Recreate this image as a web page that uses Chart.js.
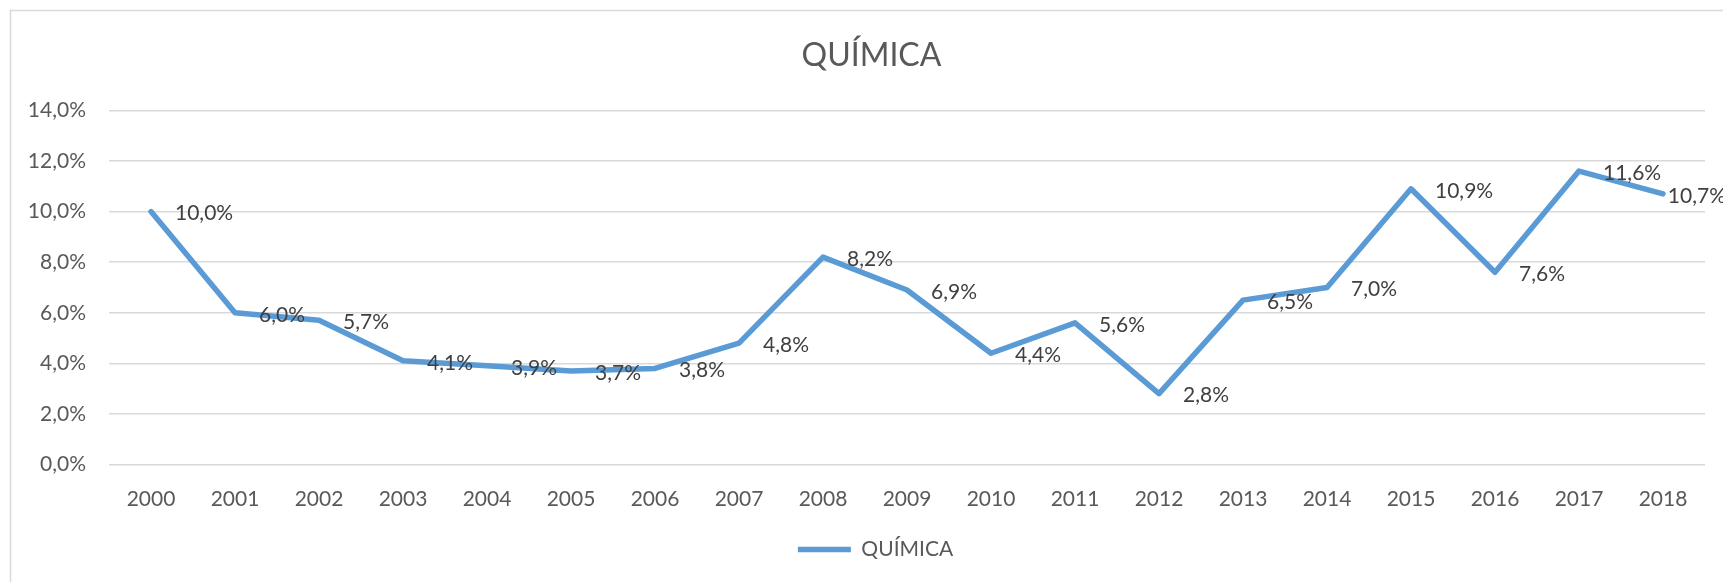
<!DOCTYPE html>
<html>
<head>
<meta charset="utf-8">
<script src="https://cdn.jsdelivr.net/npm/chart.js@4"></script>
<style>
    body { margin: 0; background: #ffffff; }
    canvas { display: block; }
</style>
</head>
<body>
<canvas id="quimicaChart" width="1723" height="582"></canvas>
<script>
// data
var years = ["2000", "2001", "2002", "2003", "2004", "2005", "2006", "2007", "2008", "2009",
    "2010", "2011", "2012", "2013", "2014", "2015", "2016", "2017", "2018"];
var quimica = [10.0, 6.0, 5.7, 4.1, 3.9, 3.7, 3.8, 4.8, 8.2, 6.9,
    4.4, 5.6, 2.8, 6.5, 7.0, 10.9, 7.6, 11.6, 10.7];
var seriesName = "QUÍMICA";
var chartTitle = "QUÍMICA";

function pct(v) {
    return v.toFixed(1).replace(".", ",") + "%";
}

// light frame round the chart (only top and left are visible)
var framePlugin = {
    id: "frame",
    beforeDraw: function (chart) {
        var ctx = chart.ctx;
        ctx.save();
        ctx.fillStyle = "#ffffff";
        ctx.fillRect(0, 0, chart.width, chart.height);
        ctx.strokeStyle = "#d9d9d9";
        ctx.lineWidth = 1.5;
        ctx.beginPath();
        ctx.moveTo(10.5, chart.height + 2);
        ctx.lineTo(10.5, 10.5);
        ctx.lineTo(chart.width + 2, 10.5);
        ctx.stroke();
        ctx.restore();
    }
};

// nudge title and legend a bit right, like the original
var boxShift = {
    id: "boxShift",
    afterLayout: function (chart) {
        chart.legend.left += 23;
        chart.legend.right += 23;
        chart.titleBlock.left += 19;
        chart.titleBlock.right += 19;
    }
};

// value labels to the right of each point
var valueLabels = {
    id: "valueLabels",
    afterDatasetsDraw: function (chart) {
        var ctx = chart.ctx;
        var meta = chart.getDatasetMeta(0);
        var data = chart.data.datasets[0].data;
        ctx.save();
        ctx.font = "21px Lato";
        ctx.fillStyle = "#404040";
        ctx.textAlign = "left";
        ctx.textBaseline = "middle";
        meta.data.forEach(function (pt, i) {
            var txt = pct(data[i]);
            var x = pt.x + 24;
            var w = ctx.measureText(txt).width;
            if (x + w > chart.width + 3) {
                x = chart.width + 3 - w;
            }
            ctx.fillText(txt, x, pt.y + 2);
        });
        ctx.restore();
    }
};

var ctx = document.getElementById("quimicaChart");
var chart = new Chart(ctx, {
    type: "line",
    data: {
        labels: years,
        datasets: [{
            label: seriesName,
            data: quimica,
            borderColor: "#5b9bd5",
            backgroundColor: "#5b9bd5",
            borderWidth: 5.5,
            borderCapStyle: "round",
            borderJoinStyle: "round",
            pointRadius: 0,
            pointHoverRadius: 0,
            tension: 0,
            fill: false
        }]
    },
    options: {
        responsive: false,
        animation: false,
        devicePixelRatio: 1,
        layout: {
            padding: { left: 0, right: 18, top: 0, bottom: 12 }
        },
        plugins: {
            title: {
                display: true,
                text: chartTitle,
                color: "#595959",
                font: { family: "Lato", size: 32, weight: "normal" },
                padding: { top: 36, bottom: 36 }
            },
            legend: {
                position: "bottom",
                labels: {
                    usePointStyle: true,
                    pointStyle: "line",
                    pointStyleWidth: 53,
                    color: "#595959",
                    font: { family: "Lato", size: 21 },
                    padding: 10
                }
            },
            tooltip: { enabled: false }
        },
        scales: {
            x: {
                offset: true,
                grid: { display: false, drawTicks: false },
                border: { display: false },
                ticks: {
                    color: "#595959",
                    font: { family: "Lato", size: 21 },
                    padding: 22,
                    maxRotation: 0,
                    autoSkip: false
                },
                afterFit: function (scale) {
                    scale.height = 64.5;
                }
            },
            y: {
                min: 0,
                max: 14,
                grid: { color: "#d9d9d9", lineWidth: 1.5, drawTicks: false },
                border: { display: false },
                ticks: {
                    stepSize: 2,
                    color: "#595959",
                    font: { family: "Lato", size: 21 },
                    padding: 23,
                    callback: function (v) { return pct(v); }
                },
                afterFit: function (scale) {
                    scale.width = 109;
                }
            }
        }
    },
    plugins: [framePlugin, boxShift, valueLabels]
});
</script>
</body>
</html>
